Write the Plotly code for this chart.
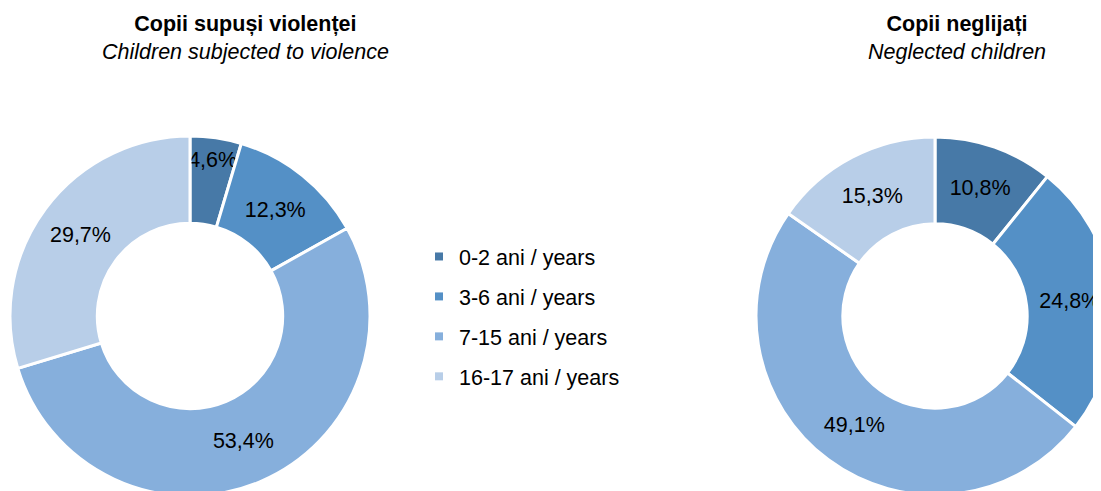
import plotly.graph_objects as go

categories = ["0-2 ani / years", "3-6 ani / years", "7-15 ani / years", "16-17 ani / years"]
violence_values = [4.6, 12.3, 53.4, 29.7]
neglect_values = [10.8, 24.8, 49.1, 15.3]
colors = ["#4779A7", "#5490C6", "#86AFDC", "#B8CEE8"]

# figure slightly larger than the viewport: the page body adds an 8px offset
W, H = 1110, 500
FONT = "Liberation Sans, Arial"
FS = 21.5


def fmt(v):
    return f"{v:.1f}".replace(".", ",") + "%"


fig = go.Figure()

common = dict(
    labels=categories,
    sort=False,
    direction="clockwise",
    rotation=0,
    hole=0.515,
    marker=dict(colors=colors, line=dict(color="white", width=3)),
    textinfo="text",
    textposition="inside",
    insidetextorientation="horizontal",
    textfont=dict(family=FONT, size=FS, color="black"),
    showlegend=False,
    hoverinfo="label+percent",
)

fig.add_trace(go.Pie(
    values=violence_values,
    text=[fmt(v) for v in violence_values],
    domain=dict(x=[2 / W, 362 / W], y=[12 / H, 372 / H]),
    **common,
))
fig.add_trace(go.Pie(
    values=neglect_values,
    text=[fmt(v) for v in neglect_values],
    domain=dict(x=[748 / W, 1106 / W], y=[13 / H, 371 / H]),
    **common,
))

for i, (c, col) in enumerate(zip(categories, colors)):
    fig.add_trace(go.Scatter(
        x=[None], y=[None], mode="markers", name=c,
        marker=dict(symbol="square", size=8, color=col),
        legendgroup=f"g{i}", showlegend=True,
    ))

fig.add_annotation(
    x=237 / W, y=1 - 2 / H, xref="paper", yref="paper",
    xanchor="center", yanchor="top", showarrow=False,
    text="<b>Copii supuși violenței</b><br><i>Children subjected to violence</i>",
    font=dict(family=FONT, size=FS, color="black"),
)
fig.add_annotation(
    x=949 / W, y=1 - 2 / H, xref="paper", yref="paper",
    xanchor="center", yanchor="top", showarrow=False,
    text="<b>Copii neglijați</b><br><i>Neglected children</i>",
    font=dict(family=FONT, size=FS, color="black"),
)

fig.update_layout(
    width=W, height=H,
    margin=dict(l=0, r=0, t=0, b=0),
    paper_bgcolor="white", plot_bgcolor="white",
    xaxis=dict(visible=False), yaxis=dict(visible=False),
    uniformtext=dict(minsize=FS, mode="show"),
    legend=dict(
        x=411 / W, y=1 - 228 / H, xanchor="left", yanchor="top",
        font=dict(family=FONT, size=FS, color="black"),
        tracegroupgap=9, itemwidth=30, bgcolor="rgba(0,0,0,0)",
    ),
)

fig.write_html("out.html")
